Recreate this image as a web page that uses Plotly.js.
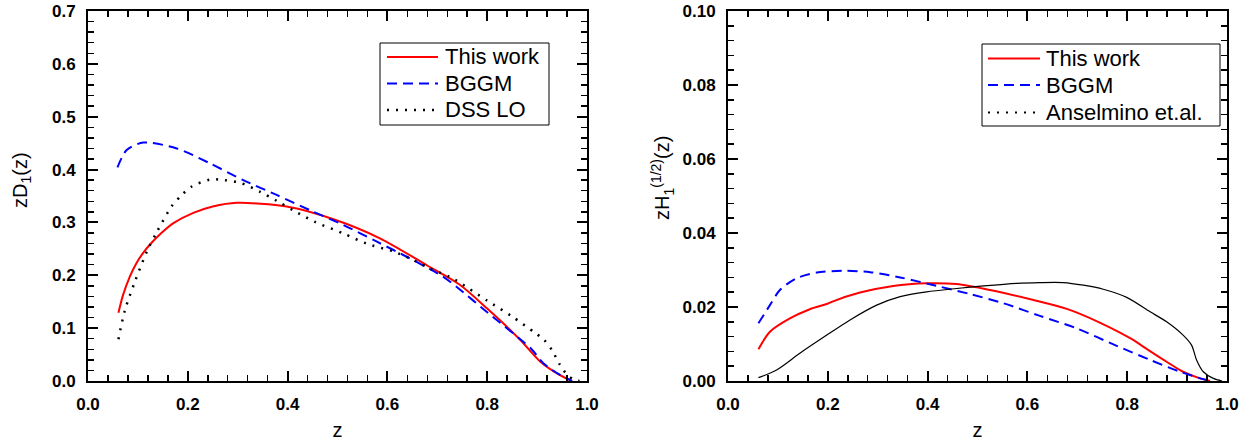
<!DOCTYPE html>
<html>
<head>
<meta charset="utf-8">
<script src="https://cdn.plot.ly/plotly-3.0.1.min.js"></script>
<style>html,body{margin:0;padding:0;background:#fff;}#chart{width:1256px;height:443px;}</style>
</head>
<body>
<div id="chart"></div>
<script>
// ---- Left panel: zD1(z) ----
const leftRedZ = [0.061,0.07,0.084,0.097,0.111,0.127,0.146,0.172,0.211,0.25,0.298,0.398,0.492,0.585,0.679,0.745,0.80,0.866,0.906,0.946,0.97];
const leftRedV = [0.129,0.162,0.198,0.223,0.243,0.261,0.279,0.299,0.318,0.330,0.337,0.330,0.306,0.270,0.219,0.182,0.137,0.078,0.037,0.011,0.0];
const leftBlueZ = [0.059,0.0775,0.111,0.178,0.244,0.311,0.378,0.445,0.512,0.579,0.645,0.712,0.739,0.80,0.888,0.912,0.945,0.97];
const leftBlueV = [0.404,0.437,0.451,0.440,0.412,0.380,0.352,0.323,0.295,0.2635,0.232,0.197,0.178,0.130,0.061,0.034,0.012,0.0];
const leftDssZ = [0.061,0.074,0.094,0.118,0.138,0.168,0.188,0.208,0.244,0.264,0.305,0.345,0.378,0.411,0.455,0.512,0.558,0.612,0.652,0.685,0.725,0.742,0.80,0.85,0.896,0.914,0.93,0.945,0.96,0.975,0.985];
const leftDssV = [0.079,0.134,0.188,0.245,0.282,0.331,0.352,0.368,0.381,0.381,0.375,0.358,0.341,0.323,0.301,0.279,0.260,0.245,0.229,0.213,0.197,0.188,0.152,0.122,0.091,0.078,0.058,0.032,0.012,0.002,0.0];

// ---- Right panel: zH1^(1/2)(z) ----
const rightRedZ = [0.061,0.084,0.124,0.164,0.198,0.208,0.2645,0.331,0.398,0.458,0.525,0.612,0.679,0.745,0.812,0.832,0.879,0.912,0.946,0.966];
const rightRedV = [0.0086,0.0133,0.0169,0.0194,0.0208,0.0214,0.0239,0.0257,0.0264,0.0262,0.0246,0.0219,0.0195,0.0158,0.0111,0.0093,0.0052,0.0025,0.0007,0.0];
const rightBlueZ = [0.061,0.084,0.104,0.138,0.178,0.231,0.285,0.345,0.418,0.485,0.552,0.625,0.699,0.779,0.846,0.906,0.9525,0.97];
const rightBlueV = [0.0156,0.0205,0.0246,0.0278,0.0293,0.0298,0.0294,0.0280,0.0257,0.0235,0.0210,0.0176,0.0142,0.0095,0.0057,0.0025,0.0005,0.0];
const rightAnsZ = [0.061,0.0975,0.144,0.198,0.2445,0.298,0.345,0.398,0.458,0.512,0.5785,0.625,0.672,0.712,0.752,0.799,0.846,0.879,0.912,0.929,0.939,0.9525,0.9726,0.99];
const rightAnsV = [0.0009,0.0030,0.0075,0.0124,0.0165,0.0205,0.0228,0.0241,0.0250,0.0257,0.0264,0.0266,0.0266,0.0259,0.0248,0.0226,0.0187,0.0160,0.0124,0.0097,0.0057,0.0025,0.0007,0.0];

// ---- Tick labels ----
const xTickVals = [0.0,0.2,0.4,0.6,0.8,1.0];
const xTickText = ["0.0","0.2","0.4","0.6","0.8","1.0"];
const leftYTickVals = [0.0,0.1,0.2,0.3,0.4,0.5,0.6,0.7];
const leftYTickText = ["0.0","0.1","0.2","0.3","0.4","0.5","0.6","0.7"];
const rightYTickVals = [0.00,0.02,0.04,0.06,0.08,0.10];
const rightYTickText = ["0.00","0.02","0.04","0.06","0.08","0.10"];

const leftNames = ["This work","BGGM","DSS LO"];
const rightNames = ["This work","BGGM","Anselmino et.al."];

const FAM = "Liberation Sans, Arial, sans-serif";
const tickFont = {family:FAM, size:17, color:"#000", weight:"bold"};
const titleFont = {family:FAM, size:20, color:"#000"};
const legFont = {family:FAM, size:22, color:"#000"};

const styleRed = {color:"#ff0000", width:2};
const styleBlue = {color:"#0000ff", width:2, dash:"10px,6px"};
const styleDot = {color:"#000000", width:2.5, dash:"2px,7px"};
const styleAns = {color:"#000000", width:1.2};

function axisBase(extra){
  return Object.assign({
    showline:true, linecolor:"#000", linewidth:2, mirror:"ticks",
    ticks:"inside", ticklen:10, tickwidth:2, tickcolor:"#000",
    showgrid:false, zeroline:false, tickfont:tickFont, ticklabelstandoff:7,
    fixedrange:true
  }, extra);
}
function sm(st){ return Object.assign({shape:"spline", smoothing:0.8}, st); }

const traces = [
  {x:leftRedZ, y:leftRedV, type:"scatter", mode:"lines", name:leftNames[0], xaxis:"x", yaxis:"y", line:sm(styleRed)},
  {x:leftBlueZ, y:leftBlueV, type:"scatter", mode:"lines", name:leftNames[1], xaxis:"x", yaxis:"y", line:sm(styleBlue)},
  {x:leftDssZ, y:leftDssV, type:"scatter", mode:"lines", name:leftNames[2], xaxis:"x", yaxis:"y", line:sm(styleDot)},
  {x:rightRedZ, y:rightRedV, type:"scatter", mode:"lines", name:rightNames[0], xaxis:"x2", yaxis:"y2", line:sm(styleRed)},
  {x:rightBlueZ, y:rightBlueV, type:"scatter", mode:"lines", name:rightNames[1], xaxis:"x2", yaxis:"y2", line:sm(styleBlue)},
  {x:rightAnsZ, y:rightAnsV, type:"scatter", mode:"lines", name:rightNames[2], xaxis:"x2", yaxis:"y2", line:sm(styleAns)}
];

const W = 1256, H = 443;
const px = v => v / W, py = v => 1 - v / H;
const yDom = [(H-381)/H, (H-11)/H];

// Legend boxes drawn as shapes + text (pixel geometry of the reference)
const shapes = [];
const annotations = [];
function addLegend(box, lineX0, lineX1, textX, rows, names, styles){
  shapes.push({type:"rect", xref:"paper", yref:"paper", x0:px(box[0]), x1:px(box[1]), y0:py(box[2]), y1:py(box[3]),
    line:{color:"#000", width:1}, fillcolor:"#fff", layer:"above"});
  names.forEach((n, i) => {
    shapes.push({type:"line", xref:"paper", yref:"paper", x0:px(lineX0), x1:px(lineX1), y0:py(rows[i]), y1:py(rows[i]),
      line:styles[i], layer:"above"});
    annotations.push({text:n, xref:"paper", yref:"paper", x:px(textX), y:py(rows[i]), xanchor:"left", yanchor:"middle",
      showarrow:false, font:legFont});
  });
}
addLegend([380,549,43,125], 387, 438, 443, [57,83.5,110], leftNames, [styleRed, styleBlue, styleDot]);
addLegend([982,1220,44,126], 988, 1040, 1044, [58.5,85,112.5], rightNames, [styleRed, styleBlue, {color:"#000", width:2, dash:"2px,7px"}]);

annotations.push(
  {text:"zD<sub>1</sub>(z)", xref:"paper", yref:"paper", x:px(22), y:py(180), textangle:-90,
   showarrow:false, font:titleFont, xanchor:"center", yanchor:"middle"},
  {text:"zH<sub>1</sub><sup>(1/2)</sup>(z)", xref:"paper", yref:"paper", x:px(662), y:py(178), textangle:-90,
   showarrow:false, font:titleFont, xanchor:"center", yanchor:"middle"}
);

const minorX = {dtick:0.04, tick0:0, ticklen:6, tickwidth:1.5, tickcolor:"#000", ticks:"inside"};
const layout = {
  width:W, height:H,
  margin:{l:0,r:0,t:0,b:0},
  paper_bgcolor:"#fff", plot_bgcolor:"#fff",
  showlegend:false,
  xaxis: axisBase({domain:[px(88), px(587)], range:[0,1], tickvals:xTickVals, ticktext:xTickText, minor:minorX,
    title:{text:"z", font:titleFont, standoff:10}, anchor:"y"}),
  yaxis: axisBase({domain:yDom, range:[0,0.7], tickvals:leftYTickVals, ticktext:leftYTickText,
    minor:{dtick:0.02, tick0:0, ticklen:6, tickwidth:1.5, tickcolor:"#000", ticks:"inside"}, anchor:"x"}),
  xaxis2: axisBase({domain:[px(728), px(1227)], range:[0,1], tickvals:xTickVals, ticktext:xTickText, minor:minorX,
    title:{text:"z", font:titleFont, standoff:10}, anchor:"y2"}),
  yaxis2: axisBase({domain:yDom, range:[0,0.1], tickvals:rightYTickVals, ticktext:rightYTickText,
    minor:{dtick:0.004, tick0:0, ticklen:6, tickwidth:1.5, tickcolor:"#000", ticks:"inside"}, anchor:"x2"}),
  shapes: shapes,
  annotations: annotations
};

Plotly.newPlot("chart", traces, layout, {staticPlot:true, displayModeBar:false});
</script>
</body>
</html>
